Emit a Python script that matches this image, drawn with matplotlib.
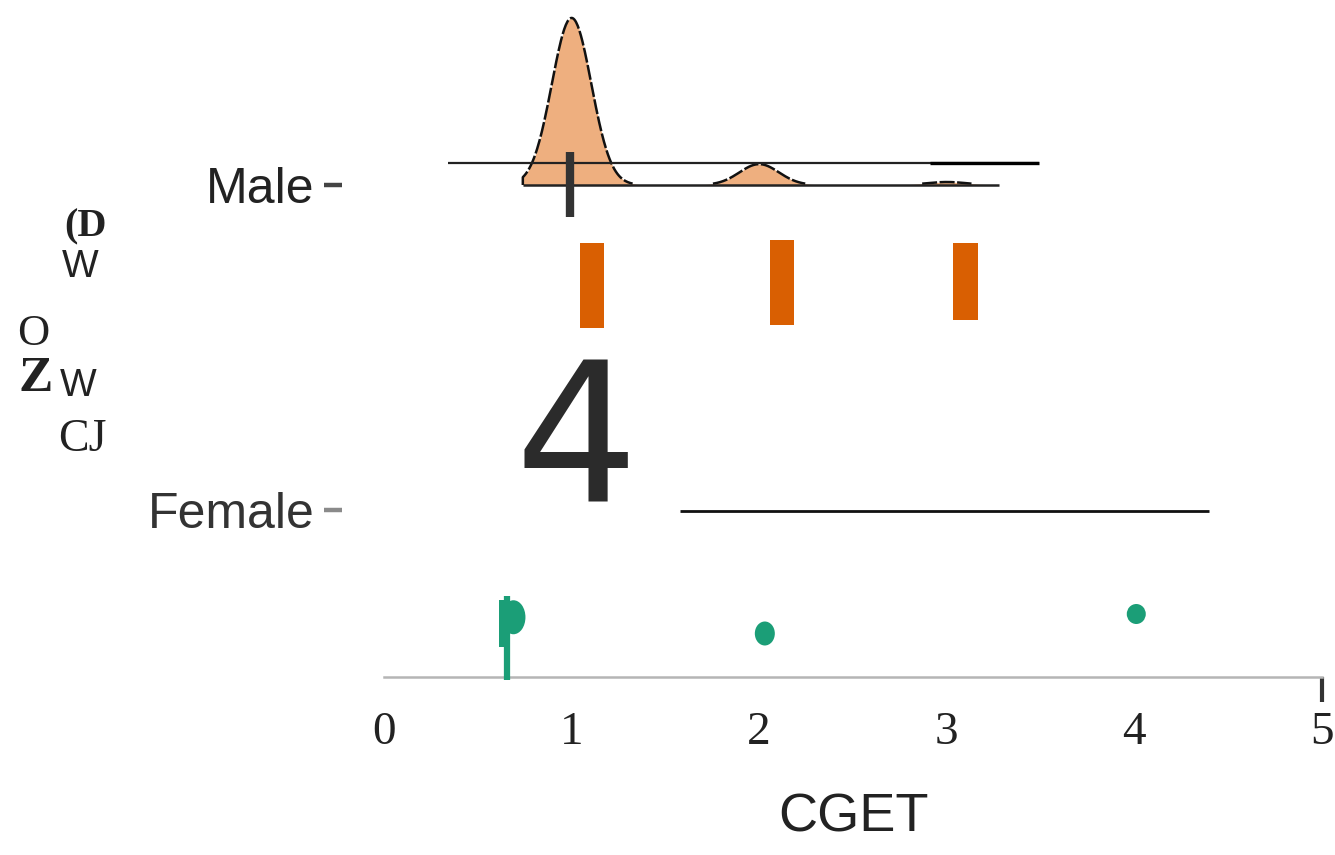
import numpy as np
import matplotlib.pyplot as plt
from matplotlib.patches import Ellipse

# categories and values
groups = ["Male", "Female"]
x_ticks = [0, 1, 2, 3, 4, 5]

# Male: distribution of scores (half violin)
male_scores = [1, 2, 3]
male_counts = [56, 7, 1]
male_median = 0.99
male_box = [-0.10, 0.10]
male_whisker = [0.34, 3.49]
male_whisker_thick = [2.91, 3.49]

# orange bars between Male and Female
bar_x = [1.11, 2.12, 3.10]
bar_top = [0.18, 0.17, 0.18]
bar_bottom = [0.44, 0.43, 0.415]

# Female
female_line = [1.58, 4.40]
female_pts_x = [0.69, 2.03, 4.01]
female_pts_y = [1.33, 1.38, 1.32]
female_pts_w = [24, 20, 19]
female_pts_h = [34, 24, 20]
female_mark_x = 0.655
female_mark_y = [1.265, 1.523]

W, H = 1335, 855
fig = plt.figure(figsize=(W / 100, H / 100), dpi=100)
# axes: x 0..5 spans px 384..1322, axis line at px 677
ax = fig.add_axes([384 / W, (H - 677) / H, (1322 - 384) / W, 677 / H])
px_x = (1322 - 384) / 5.0
px_y = 325.0
ax.set_xlim(0, 5)
ax.set_ylim(1 + (677 - 510) / px_y, -185 / px_y)

orange = "#D95F02"
green = "#1B9E77"
violin_fill = "#EEAF7F"

# half violin from a gaussian kde
data = np.repeat(male_scores, male_counts)
bw = 0.105
grid = np.linspace(min(data) - 0.26, max(data) + 0.28, 600)
dens = np.exp(-0.5 * ((grid[:, None] - data[None, :]) / bw) ** 2).sum(axis=1)
dens = dens / dens.max() * 0.514
ax.fill_between(grid, 0, -dens, color=violin_fill, lw=0, zorder=2)
edge = np.where(dens > 0.004, -dens, np.nan)
ax.plot(np.r_[grid[0], grid, grid[-1]], np.r_[0, edge, 0],
        color="#111111", lw=1.8, ls=(0, (6, 1)), zorder=3)
ax.hlines(0, grid[0], grid[-1], color="#222222", lw=1.8, zorder=3)

ax.hlines(-22 / px_y, male_whisker[0], male_whisker[1], color="#222222", lw=1.6, zorder=4)
ax.hlines(-22 / px_y, male_whisker_thick[0], male_whisker_thick[1], color="#000000", lw=2.4, zorder=4)
ax.vlines(male_median, male_box[0], male_box[1], color="#333333", lw=6, zorder=5)

# orange bars
ax.bar(bar_x, np.array(bar_bottom) - np.array(bar_top), bottom=bar_top, width=0.13,
       color=orange, zorder=3)

# big "4"
ax.text(1.023, 0.975, "4", fontsize=140, color="#2b2b2b", ha="center", va="baseline",
        family="DejaVu Sans", zorder=3)

# female line and points
ax.hlines(1.003, female_line[0], female_line[1], color="#111111", lw=2, zorder=3)
for x, y, w, h in zip(female_pts_x, female_pts_y, female_pts_w, female_pts_h):
    ax.add_patch(Ellipse((x, y), w / px_x, h / px_y, color=green, lw=0, zorder=4))
ax.bar([female_mark_x - 0.022], [(647 - 600) / px_y], bottom=(600 - 510) / px_y + 1,
       width=0.045, color=green, zorder=4)
ax.vlines(female_mark_x, female_mark_y[0], female_mark_y[1], color=green, lw=4.5,
          zorder=5, clip_on=False)

# axes styling
for s in ["top", "right"]:
    ax.spines[s].set_visible(False)
ax.spines["left"].set_visible(False)
ax.spines["left"].set_position(("outward", 30))
ax.spines["bottom"].set_color("#b5b5b5")
ax.spines["bottom"].set_linewidth(1.8)

ax.set_yticks([0, 1])
ax.set_yticklabels(groups, family="Liberation Sans", fontsize=36, color="#222222")
ax.tick_params(axis="y", length=13, width=3.2, pad=7, color="#444444")
yt = ax.yaxis.get_major_ticks()
yt[1].tick1line.set_markeredgecolor("#8a8a8a")
yt[1].label1.set_color("#333333")

ax.set_xticks(x_ticks)
ax.set_xticklabels([str(t) for t in x_ticks], family="Liberation Serif", fontsize=34,
                   color="#222222")
ax.tick_params(axis="x", length=18, width=3, color="#333333", pad=7)
for t in ax.xaxis.get_major_ticks()[:-1]:
    t.tick1line.set_visible(False)

ax.set_xlabel("CGET", family="Liberation Sans", fontsize=39, color="#222222")
ax.xaxis.set_label_coords(0.5, -0.171)

# garbled y label glyphs
def ftext(px, py, s, **kw):
    fig.text(px / W, 1 - py / H, s, ha="center", va="center", color="#222222", **kw)

ftext(85, 227, "(D", family="Liberation Serif", fontsize=29, fontweight="bold")
ftext(80, 267, "W", family="Liberation Sans", fontsize=28)
ftext(33, 334, "O", family="Liberation Serif", fontsize=32)
ftext(36, 379, "Z", family="Liberation Serif", fontsize=37, fontweight="bold")
ftext(78, 386, "W", family="Liberation Sans", fontsize=28)
ftext(82, 440, "CJ", family="Liberation Serif", fontsize=33)

fig.savefig("out.png", dpi=100)
